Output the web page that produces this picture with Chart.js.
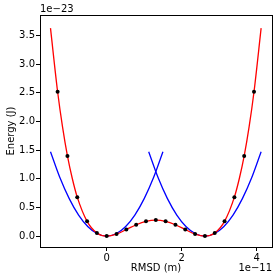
<!DOCTYPE html>
<html>
<head>
<meta charset="utf-8">
<style>
  body { margin: 0; background: #fff; }
  canvas { display: block; }
</style>
</head>
<body>
<canvas id="energyChart" width="280" height="280"></canvas>

<script src="https://cdn.jsdelivr.net/npm/chart.js"></script>
<script>
// values in units of 1e-11 m (x) and 1e-23 J (y)
const xTicks = [0, 2, 4];
const yTicks = [0.0, 0.5, 1.0, 1.5, 2.0, 2.5, 3.0, 3.5];

const dotX = [-1.31, -1.048, -0.786, -0.524, -0.262, 0, 0.262, 0.524, 0.786, 1.048, 1.31,
              1.572, 1.834, 2.096, 2.358, 2.62, 2.882, 3.144, 3.406, 3.668, 3.93];
const dotY = [2.52, 1.40, 0.68, 0.258, 0.054, 0, 0.036, 0.115, 0.198, 0.258, 0.280,
              0.258, 0.198, 0.115, 0.036, 0, 0.054, 0.258, 0.68, 1.40, 2.52];

const redX = [-1.50, -1.31, -1.18, -1.048, -0.92, -0.786, -0.524, -0.262, 0, 0.262, 0.524, 0.786, 1.048, 1.31,
              1.572, 1.834, 2.096, 2.358, 2.62, 2.882, 3.144, 3.406, 3.54, 3.668, 3.80, 3.93, 4.12];
const redY = [3.63, 2.52, 1.91, 1.40, 1.01, 0.68, 0.258, 0.054, 0, 0.036, 0.115, 0.198, 0.258, 0.280,
              0.258, 0.198, 0.115, 0.036, 0, 0.054, 0.258, 0.68, 1.01, 1.40, 1.91, 2.52, 3.63];

const blueLeftX = [-1.5, -1.25, -1.0, -0.75, -0.5, -0.25, 0, 0.25, 0.5, 0.75, 1.0, 1.25, 1.5];
const blueLeftY = [1.474, 1.023, 0.655, 0.368, 0.164, 0.041, 0, 0.041, 0.164, 0.368, 0.655, 1.023, 1.474];
const blueRightX = [1.12, 1.37, 1.62, 1.87, 2.12, 2.37, 2.62, 2.87, 3.12, 3.37, 3.62, 3.87, 4.12];
const blueRightY = [1.474, 1.023, 0.655, 0.368, 0.164, 0.041, 0, 0.041, 0.164, 0.368, 0.655, 1.023, 1.474];

function pairs(xs, ys) {
    return xs.map((x, i) => ({ x: x, y: ys[i] }));
}

const font = { family: "DejaVu Sans", size: 10 };

// box around plot + matplotlib style offset labels
const frame = {
    id: "frame",
    afterDraw(chart) {
        const a = chart.chartArea;
        const ctx = chart.ctx;
        ctx.save();
        ctx.strokeStyle = "#000";
        ctx.lineWidth = 1;
        ctx.strokeRect(Math.round(a.left) + 0.5, Math.round(a.top) + 0.5,
                       Math.round(a.right - a.left), Math.round(a.bottom - a.top));
        ctx.fillStyle = "#000";
        ctx.font = "10px 'DejaVu Sans'";
        ctx.textAlign = "left";
        ctx.textBaseline = "bottom";
        ctx.fillText("1e\u221223", a.left, a.top - 1);
        ctx.textAlign = "right";
        ctx.textBaseline = "middle";
        ctx.fillText("1e\u221211", a.right, 268);
        ctx.restore();
    }
};

new Chart(document.getElementById("energyChart"), {
    type: "scatter",
    data: {
        datasets: [
            {
                data: pairs(dotX, dotY),
                showLine: false,
                pointRadius: 2,
                pointBackgroundColor: "#000",
                pointBorderWidth: 0
            },
            {
                data: pairs(redX, redY),
                showLine: true,
                borderColor: "#ff0000",
                borderWidth: 1.3,
                pointRadius: 0,
                cubicInterpolationMode: "monotone"
            },
            {
                data: pairs(blueLeftX, blueLeftY),
                showLine: true,
                borderColor: "#0000ff",
                borderWidth: 1.3,
                pointRadius: 0,
                cubicInterpolationMode: "monotone"
            },
            {
                data: pairs(blueRightX, blueRightY),
                showLine: true,
                borderColor: "#0000ff",
                borderWidth: 1.3,
                pointRadius: 0,
                cubicInterpolationMode: "monotone"
            }
        ]
    },
    options: {
        responsive: false,
        animation: false,
        layout: { padding: { left: 0, right: 8, top: 15, bottom: 0 } },
        plugins: { legend: { display: false }, tooltip: { enabled: false } },
        scales: {
            x: {
                type: "linear",
                min: -1.78,
                max: 4.41,
                afterFit: s => { s.height = 33; },
                afterBuildTicks: s => { s.ticks = xTicks.map(v => ({ value: v })); },
                grid: { drawOnChartArea: false, tickLength: 4, tickColor: "#000" },
                border: { display: false },
                ticks: { color: "#000", font: font, padding: 1, maxRotation: 0,
                         callback: v => String(v) },
                title: { display: true, text: "RMSD (m)", color: "#000", font: font,
                         padding: { top: 0, bottom: 6 } }
            },
            y: {
                type: "linear",
                min: -0.19,
                max: 3.86,
                afterFit: s => { s.width = 40; },
                afterBuildTicks: s => { s.ticks = yTicks.map(v => ({ value: v })); },
                grid: { drawOnChartArea: false, tickLength: 4, tickColor: "#000" },
                border: { display: false },
                ticks: { color: "#000", font: font, padding: 1,
                         callback: v => v.toFixed(1) },
                title: { display: true, text: "Energy (J)", color: "#000", font: font,
                         padding: { top: 5, bottom: 0 } }
            }
        }
    },
    plugins: [frame]
});
</script>
</body>
</html>
